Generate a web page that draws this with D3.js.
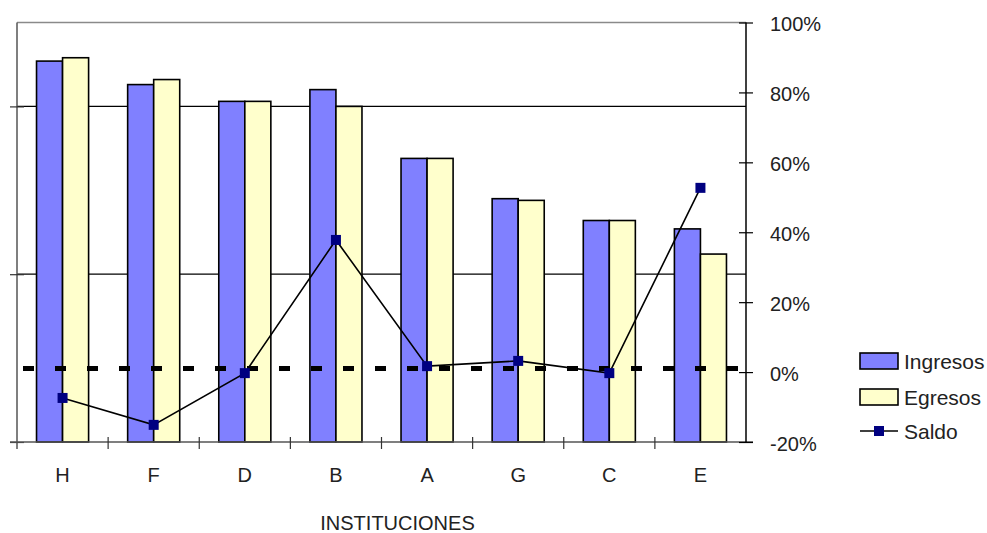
<!DOCTYPE html>
<html>
<head>
<meta charset="utf-8">
<script src="https://cdn.jsdelivr.net/npm/d3@7"></script>
<style>
  html, body { margin: 0; padding: 0; background: #fff; }
  svg { display: block; }
  text { font-family: "Liberation Sans", Arial, sans-serif; fill: #222; }
</style>
</head>
<body>
<svg id="chart" width="987" height="533"></svg>
<script>
// ---- data ----
const categories = ["H", "F", "D", "B", "A", "G", "C", "E"];
const ingresos = [2.27, 2.13, 2.03, 2.10, 1.69, 1.45, 1.32, 1.27];
const egresos  = [2.29, 2.16, 2.03, 2.00, 1.69, 1.44, 1.32, 1.12];
const saldo    = [-0.074, -0.151, -0.003, 0.378, 0.017, 0.032, -0.003, 0.527];
const referencia = 0.01;
const leftTicks = [0, 1, 2];
const rightTicks = [-0.2, 0, 0.2, 0.4, 0.6, 0.8, 1.0];
const seriesNames = ["Ingresos", "Egresos", "Saldo"];
const xTitle = "INSTITUCIONES";

// ---- layout ----
const L = 17, R = 746, T = 22.5, B = 442;
const svg = d3.select("#chart");

const x = d3.scaleBand().domain(categories).range([L, R]).padding(0);
const x1 = d3.scaleBand().domain(["Ingresos", "Egresos"]).range([0, x.bandwidth()])
  .paddingInner(0).paddingOuter(0.75);
const yL = d3.scaleLinear().domain([0, 2.5]).range([B, T]);
const yR = d3.scaleLinear().domain([-0.2, 1.0]).range([B, T]);

// plot border top
svg.append("line").attr("x1", L).attr("x2", R).attr("y1", T).attr("y2", T)
  .attr("stroke", "#8a8a8a").attr("stroke-width", 1.5);

// gridlines (left axis)
svg.append("g").selectAll("line").data(leftTicks.filter(d => d > 0)).join("line")
  .attr("x1", L).attr("x2", R)
  .attr("y1", d => yL(d)).attr("y2", d => yL(d))
  .attr("stroke", "#000").attr("stroke-width", 1.2);

// bars
const barData = [];
categories.forEach((c, i) => {
  barData.push({ c, s: "Ingresos", v: ingresos[i] });
  barData.push({ c, s: "Egresos", v: egresos[i] });
});
const colors = { Ingresos: "#8080FF", Egresos: "#FFFFCC" };
svg.append("g").selectAll("rect").data(barData).join("rect")
  .attr("x", d => x(d.c) + x1(d.s))
  .attr("y", d => yL(d.v))
  .attr("width", x1.bandwidth())
  .attr("height", d => yL(0) - yL(d.v))
  .attr("fill", d => colors[d.s])
  .attr("stroke", "#000").attr("stroke-width", 1.6);

// dashed reference line
svg.append("line")
  .attr("x1", L + 6).attr("x2", R - 6)
  .attr("y1", yR(referencia)).attr("y2", yR(referencia))
  .attr("stroke", "#000").attr("stroke-width", 5)
  .attr("stroke-dasharray", "11,21");

// left axis
const gL = svg.append("g").attr("transform", `translate(${L},0)`)
  .call(d3.axisLeft(yL).tickValues(leftTicks).tickFormat("").tickSizeOuter(0).tickSizeInner(7));
gL.select(".domain").attr("stroke", "#555").attr("stroke-width", 1.5)
  .attr("d", `M0,${T}V${B + 7}`);
gL.selectAll(".tick line").attr("x1", -7).attr("x2", 7).attr("stroke", "#333").attr("stroke-width", 1.2);

// bottom axis
const gB = svg.append("g").attr("transform", `translate(0,${B})`)
  .call(d3.axisBottom(x).tickSize(0).tickPadding(0));
gB.select(".domain").attr("stroke", "#555").attr("stroke-width", 1.5)
  .attr("d", `M${L - 7},0H${R + 7}`);
gB.selectAll(".tick line").remove();
gB.selectAll(".tick text").attr("y", 40).attr("dy", 0)
  .style("font-size", "20px").style("font-family", "'Liberation Sans', Arial, sans-serif").attr("fill", "#222");
// category boundary ticks
const bounds = categories.map(c => x(c)).slice(1);
gB.append("g").selectAll("line").data(bounds).join("line")
  .attr("x1", d => d).attr("x2", d => d).attr("y1", -5).attr("y2", 7)
  .attr("stroke", "#333").attr("stroke-width", 1.2);

// right axis
const gR = svg.append("g").attr("transform", `translate(${R},0)`)
  .call(d3.axisRight(yR).tickValues(rightTicks).tickFormat(d => Math.round(d * 100) + "%")
    .tickSizeOuter(0).tickSizeInner(7).tickPadding(17));
gR.select(".domain").attr("stroke", "#000").attr("stroke-width", 1.5)
  .attr("d", `M0,${T}V${B}`);
gR.selectAll(".tick line").attr("x1", -7).attr("x2", 7).attr("stroke", "#000").attr("stroke-width", 1.2);
gR.selectAll(".tick text").attr("dy", "0.4em")
  .style("font-size", "20px").style("font-family", "'Liberation Sans', Arial, sans-serif").attr("fill", "#222");

// saldo line
const line = d3.line()
  .x((d, i) => x(categories[i]) + x.bandwidth() / 2)
  .y(d => yR(d));
svg.append("path").datum(saldo).attr("d", line)
  .attr("fill", "none").attr("stroke", "#000").attr("stroke-width", 1.6);
svg.append("g").selectAll("rect").data(saldo).join("rect")
  .attr("x", (d, i) => x(categories[i]) + x.bandwidth() / 2 - 5)
  .attr("y", d => yR(d) - 5)
  .attr("width", 10).attr("height", 10)
  .attr("fill", "#000080");

// axis title
svg.append("text").attr("x", (L + R) / 2 + 16).attr("y", 530)
  .attr("text-anchor", "middle").style("font-size", "20px").text(xTitle);

// legend
const leg = svg.append("g");
const legY = [361, 397, 431];
seriesNames.forEach((s, i) => {
  if (s === "Saldo") {
    leg.append("line").attr("x1", 860).attr("x2", 898).attr("y1", legY[i]).attr("y2", legY[i])
      .attr("stroke", "#000").attr("stroke-width", 1.6);
    leg.append("rect").attr("x", 874).attr("y", legY[i] - 5).attr("width", 10).attr("height", 10)
      .attr("fill", "#000080");
  } else {
    leg.append("rect").attr("x", 860).attr("y", legY[i] - 8).attr("width", 38).attr("height", 16)
      .attr("fill", colors[s]).attr("stroke", "#000").attr("stroke-width", 1.6);
  }
  leg.append("text").attr("x", 904).attr("y", legY[i]).attr("dy", "0.36em")
    .style("font-size", "21px").text(s);
});
</script>
</body>
</html>
